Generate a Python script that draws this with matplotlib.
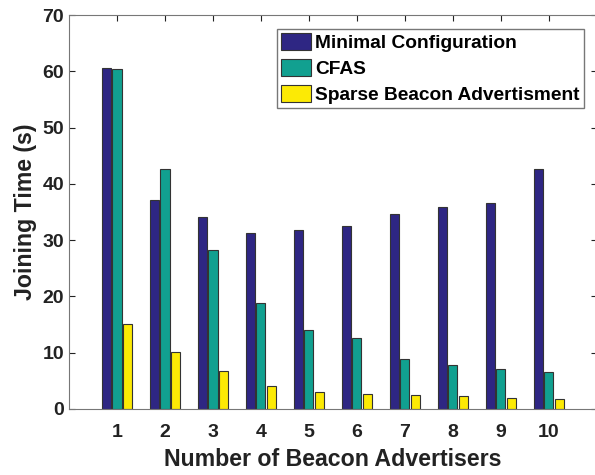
import matplotlib.pyplot as plt
import numpy as np

plt.rcParams['font.family'] = ['Liberation Sans', 'DejaVu Sans']
plt.rcParams['font.weight'] = 'bold'

advertisers = [1, 2, 3, 4, 5, 6, 7, 8, 9, 10]
minimal_config = [60.7, 37.1, 34.2, 31.3, 31.9, 32.6, 34.6, 35.9, 36.6, 42.6]
cfas = [60.5, 42.6, 28.2, 18.8, 14.0, 12.7, 8.9, 7.9, 7.1, 6.6]
sparse_beacon = [15.1, 10.2, 6.7, 4.1, 3.0, 2.7, 2.5, 2.25, 1.95, 1.8]

labels = ['Minimal Configuration', 'CFAS', 'Sparse Beacon Advertisment']
colors = ['#2e2683', '#11a090', '#fcea05']

fig = plt.figure(figsize=(5.95, 4.75), dpi=100)
ax = fig.add_axes([0.116, 0.139, 0.887, 0.829])
ax.set_axisbelow(True)

x = np.array(advertisers)
w = 0.19
step = 0.22
for i, (vals, lab, c) in enumerate(zip([minimal_config, cfas, sparse_beacon], labels, colors)):
    ax.bar(x + (i - 1) * step, vals, w, color=c, edgecolor='#333333', linewidth=0.8, label=lab)

ax.set_xlim(0, 11)
ax.set_ylim(0, 70)
ax.set_xticks(advertisers)
ax.set_yticks(range(0, 71, 10))
ax.tick_params(direction='in', top=True, right=True, labelsize=14, colors='#222222', length=4)
ax.tick_params(axis='x', pad=11)
for lbl in ax.get_xticklabels() + ax.get_yticklabels():
    lbl.set_fontweight('bold')
for s in ax.spines.values():
    s.set_color('#777777')

ax.set_xlabel('Number of Beacon Advertisers', fontsize=16.7, fontweight='bold', color='#222222', labelpad=5)
ax.set_ylabel('Joining Time (s)', fontsize=16.7, fontweight='bold', color='#222222')

leg = ax.legend(loc='upper right', bbox_to_anchor=(0.975, 0.964), fontsize=13.8, frameon=True,
                fancybox=False, edgecolor='#555555', handlelength=1.6, handleheight=1.0,
                handletextpad=0.2, labelspacing=0.35, borderpad=0.2, borderaxespad=0)
leg.get_frame().set_linewidth(1.0)
for t in leg.get_texts():
    t.set_fontweight('bold')

fig.savefig('out.png', dpi=100)
